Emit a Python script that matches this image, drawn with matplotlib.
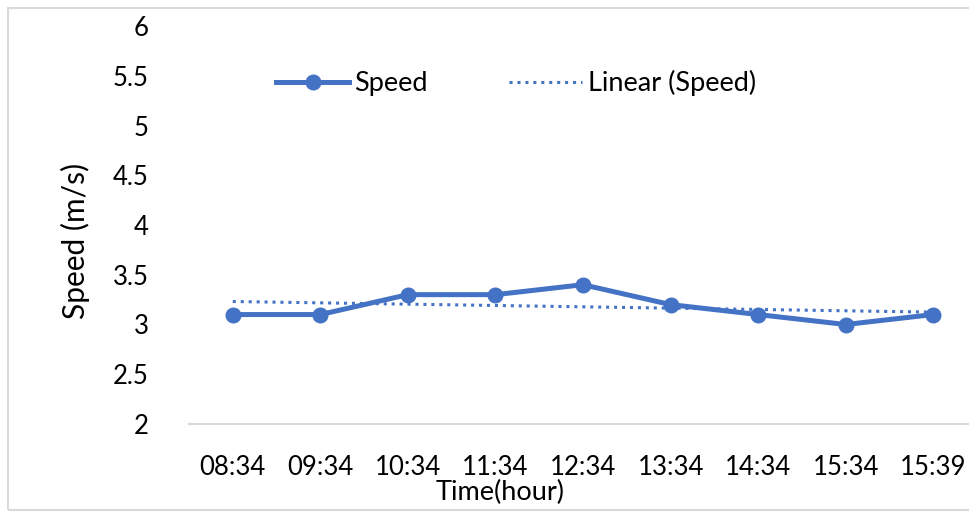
import matplotlib
matplotlib.use("Agg")
import matplotlib.pyplot as plt
import numpy as np
from matplotlib.patches import Rectangle

categories = ["08:34", "09:34", "10:34", "11:34", "12:34", "13:34", "14:34", "15:34", "15:39"]
speed = [3.1, 3.1, 3.3, 3.3, 3.4, 3.2, 3.1, 3.0, 3.1]
yticks = [2, 2.5, 3, 3.5, 4, 4.5, 5, 5.5, 6]
ytick_labels = ["2", "2.5", "3", "3.5", "4", "4.5", "5", "5.5", "6"]

plt.rcParams['font.family'] = ['Lato', 'DejaVu Sans']
color = "#4472C4"
fs_tick = 18.5
fs_leg = 19.5

fig = plt.figure(figsize=(9.69, 5.13), dpi=100)
ax = fig.add_axes([189/969, 1-424/513, (977-189)/969, (424-26)/513])

x = np.arange(len(categories))
ax.plot(x, speed, color=color, lw=3.6, marker='o', markersize=10.5, label="Speed",
        solid_joinstyle='round', zorder=3)
coef = np.polyfit(x, speed, 1)
trend = np.polyval(coef, x)
ax.plot(x, trend, color=color, lw=2.2, linestyle=(0, (1, 1.6)), label="Linear (Speed)", zorder=2)

ax.set_xlim(-0.5, len(categories) - 0.5)
ax.set_ylim(2, 6)
ax.set_yticks(yticks)
ax.set_yticklabels(ytick_labels)
ax.set_xticks(x)
ax.set_xticklabels(categories)
ax.tick_params(axis='both', length=0, labelsize=fs_tick, colors='black')
ax.tick_params(axis='y', pad=29)
ax.tick_params(axis='x', pad=22)
for s in ['top', 'right', 'left']:
    ax.spines[s].set_visible(False)
ax.spines['bottom'].set_color('#D9D9D9')
ax.spines['bottom'].set_linewidth(1.5)

fig.text(75/969, 1-241/513, "Speed (m/s)", rotation=90, ha='center', va='center', fontsize=21.5)
fig.text(500/969, 1-492/513, "Time(hour)", ha='center', va='center', fontsize=19.5)

leg = ax.legend(loc='center', bbox_to_anchor=(516/969, 1-83/513), bbox_transform=fig.transFigure,
                ncol=2, frameon=False, fontsize=fs_leg, handlelength=2.7, handletextpad=0.2,
                columnspacing=3.0)

fig.patches.append(Rectangle((8/969, 3/513), 1.0, 1-11/513, transform=fig.transFigure,
                             fill=False, edgecolor='#D9D9D9', lw=1.5, zorder=0))

fig.savefig("out.png", dpi=100)
